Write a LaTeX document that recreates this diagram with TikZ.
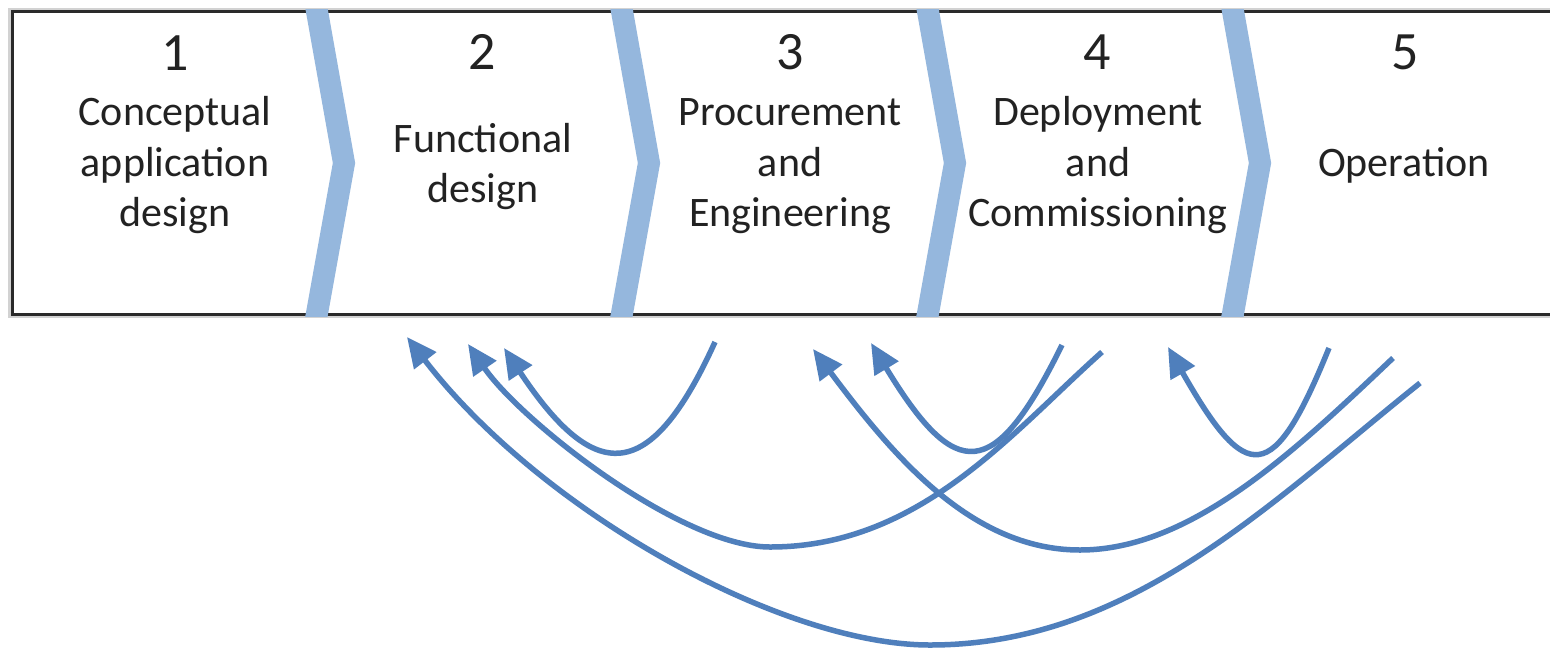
\documentclass[tikz,border=0pt]{standalone}
\usepackage{fontspec}
\setmainfont{Carlito}
\usetikzlibrary{arrows.meta}
\definecolor{chev}{HTML}{95B7DD}
\definecolor{arr}{HTML}{4F7FBC}
\definecolor{txt}{HTML}{222222}
\definecolor{frame}{HTML}{2A2A2A}
\begin{document}
\begin{tikzpicture}[x=1pt,y=-1pt,
  lab/.style={font=\fontsize{42}{50}\selectfont, text=txt, anchor=base, inner sep=0pt},
  num/.style={font=\fontsize{54}{60}\selectfont, text=txt, anchor=base, inner sep=0pt},
  fb/.style={draw=arr, line width=5.5pt, -{Triangle[length=30pt,width=27pt]}},
  chevron/.style={draw=chev, line width=22pt, line join=miter}]
\useasboundingbox (0,0) rectangle (1550,649);
\fill[white] (0,0) rectangle (1550,649);
% frame
\draw[gray!35, line width=8pt] (12,11.5) rectangle (1580,314);
\draw[frame, fill=white, line width=3pt] (12,11.5) rectangle (1580,314);
% chevrons
\begin{scope}
\clip (0,9.5) rectangle (1550,316.5);
\foreach \x in {317,622,928,1233} {
  \draw[chevron] (\x-2,0) -- (\x+27,163) -- (\x-3,330);
}
\end{scope}
% numbers
\node[num] (n1) at (175,70) {1};
\node[num] (n2) at (482,69) {2};
\node[num] (n3) at (790,69) {3};
\node[num] (n4) at (1097,69) {4};
\node[num] (n5) at (1405,69) {5};
% labels
\node[lab] (t1a) at (175,125) {Conceptual};
\node[lab] (t1b) at (175,176) {application};
\node[lab] (t1c) at (175,226) {design};
\node[lab] (t2a) at (483,152) {Functional};
\node[lab] (t2b) at (483,202) {design};
\node[lab] (t3a) at (790,125) {Procurement};
\node[lab] (t3b) at (790,176) {and};
\node[lab] (t3c) at (790,226) {Engineering};
\node[lab] (t4a) at (1098,125) {Deployment};
\node[lab] (t4b) at (1098,176) {and};
\node[lab] (t4c) at (1098,226) {Commissioning};
\node[lab] (t5a) at (1404,176) {Operation};
% feedback arrows
\coordinate (aS) at (715,342);  \coordinate (aT) at (504,348);
\coordinate (dS) at (1062,345); \coordinate (dT) at (871,343);
\coordinate (fS) at (1329,348); \coordinate (fT) at (1168,347);
\coordinate (bS) at (1102,352); \coordinate (bM) at (770,547); \coordinate (bT) at (468,344);
\coordinate (eS) at (1393,358); \coordinate (eM) at (1080,550); \coordinate (eT) at (813,349);
\coordinate (cS) at (1420,383); \coordinate (cM) at (930,645); \coordinate (cT) at (407,337);
\draw[fb] (aS) .. controls (650,485) and (595,485) .. (aT);
\draw[fb] (dS) .. controls (994,483) and (956,483) .. (dT);
\draw[fb] (fS) .. controls (1273,486) and (1247,486) .. (fT);
\draw[fb] (bS) .. controls (1012,432) and (920,547) .. (bM) .. controls (680,547) and (520,420) .. (bT);
\draw[fb] (eS) .. controls (1293,453) and (1190,550) .. (eM) .. controls (970,550) and (891,453) .. (eT);
\draw[fb] (cS) .. controls (1270,503) and (1130,645) .. (cM) .. controls (780,645) and (540,510) .. (cT);
\end{tikzpicture}
\end{document}
